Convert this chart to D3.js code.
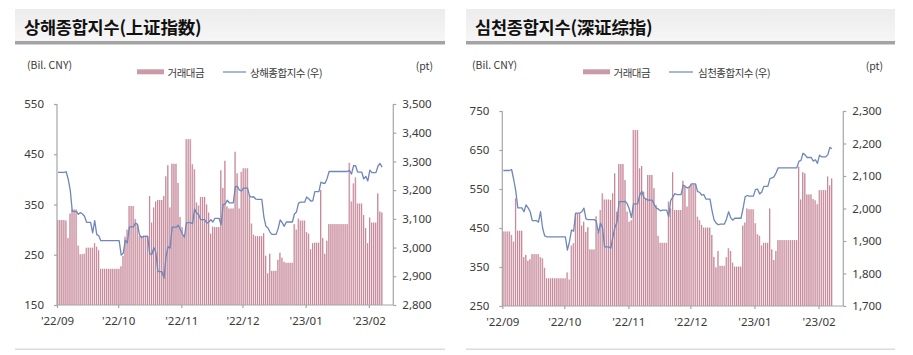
<!DOCTYPE html>
<html><head><meta charset="utf-8">
<script src="https://cdn.jsdelivr.net/npm/d3@7"></script>
<style>
body{margin:0;background:#fff;}
svg{display:block;font-family:"Noto Sans CJK KR","Noto Sans",sans-serif;}
</style>
</head><body>
<svg id="c" width="913" height="355"></svg>
<script>
// ---------- DATA (one value per calendar day, 2022-09-09 .. 2023-02-15) ----------
const startDate = "2022-09-09";
const axisEndDate = "2023-02-21";
const monthTicks = ["2022-09-09","2022-10-09","2022-11-09","2022-12-09","2023-01-09","2023-02-09"];

// Shanghai turnover (Bil. CNY)
const shVolume = [
  // Sep 9-30
  319,319,319,319,318,283,332,340,340,340,268,251,251,252,264,264,264,264,273,266,259,222,
  // Oct
  222,222,222,222,222,222,222,222,222,227,248,286,300,347,347,347,321,310,287,287,288,288,288,367,314,344,356,359,359,359,367,
  // Nov
  406,428,344,431,431,431,393,325,305,290,480,480,480,430,420,354,348,365,365,365,350,334,292,306,305,305,305,418,383,437,
  // Dec
  346,342,342,342,455,412,342,415,422,422,422,369,312,290,287,287,287,287,293,248,213,252,218,218,218,240,254,244,236,234,234,
  // Jan
  234,234,311,300,322,318,318,318,295,292,261,273,274,274,274,379,283,252,278,311,311,311,311,311,311,311,311,311,311,433,356,
  // Feb 1-15
  392,404,352,352,352,329,303,273,324,314,314,314,372,336,334
];
// Shanghai Composite (pt)
const shIndex = [
  3262,3262,3262,3262,3264,3238,3200,3126,3126,3126,3116,3122,3117,3109,3088,3088,3088,3051,3094,3045,3041,3024,
  3024,3024,3024,3024,3024,3024,3024,3024,3024,2974,2980,3026,3016,3072,3072,3072,3085,3081,3044,3035,3039,3039,3039,2978,2976,3000,2983,2916,2916,2916,2893,
  2969,3003,2998,3071,3071,3071,3078,3064,3048,3036,3087,3087,3087,3083,3134,3120,3115,3097,3097,3097,3085,3089,3097,3089,3102,3102,3102,3079,3150,3151,
  3165,3156,3156,3156,3212,3213,3200,3197,3207,3207,3207,3179,3176,3177,3169,3168,3168,3168,3107,3074,3068,3054,3046,3046,3046,3066,3096,3087,3074,3089,3089,
  3089,3089,3117,3124,3155,3158,3158,3158,3176,3170,3162,3163,3195,3195,3195,3228,3224,3224,3240,3265,3265,3265,3265,3265,3265,3265,3265,3265,3265,3269,3256,
  3285,3285,3263,3263,3263,3239,3248,3232,3270,3261,3261,3261,3284,3293,3280
];
// Shenzhen turnover (Bil. CNY)
const szVolume = [
  441,441,441,441,432,415,526,443,443,443,375,381,366,370,383,383,383,383,375,372,348,321,
  321,321,321,321,321,321,321,321,321,336,318,405,411,487,487,487,456,466,440,452,395,395,395,480,440,496,539,523,523,523,522,
  539,590,492,614,614,614,573,492,466,470,701,701,701,603,609,543,526,586,586,586,552,509,430,412,412,412,412,518,500,593,
  496,496,496,496,571,556,505,556,562,562,562,479,470,458,451,451,451,451,432,376,349,391,353,353,353,375,398,391,361,351,351,
  351,351,456,464,500,498,498,498,462,434,430,405,412,412,412,500,395,368,391,419,419,419,419,419,419,419,419,419,419,607,523,
  593,590,536,536,536,524,521,511,547,547,547,547,582,559,577
];
// Shenzhen Composite (pt)
const szIndex = [
  2117,2117,2117,2117,2120,2090,2055,2002,2002,2002,1990,2011,2002,1990,1963,1963,1963,1958,1990,1940,1916,1913,
  1913,1913,1913,1913,1913,1913,1913,1913,1913,1872,1898,1934,1930,1986,1986,1986,1990,2001,1968,1966,1966,1966,1966,1960,1925,1955,1940,1882,1882,1882,1878,
  1912,1942,1958,2021,2021,2021,2022,2014,1997,1972,2014,2014,2014,2041,2053,2034,2029,2026,2026,2026,2012,2002,1998,1993,1995,1995,1995,1975,2025,2035,
  2046,2043,2043,2043,2072,2068,2063,2066,2076,2076,2076,2052,2050,2041,2043,2029,2029,2029,1993,1964,1955,1950,1952,1952,1952,1968,1990,1972,1964,1970,1970,
  1970,1970,2000,2036,2040,2038,2038,2038,2058,2060,2045,2050,2068,2068,2068,2092,2094,2098,2110,2125,2125,2125,2125,2125,2125,2125,2125,2125,2125,2145,2148,
  2170,2165,2157,2157,2157,2146,2150,2139,2164,2159,2159,2159,2165,2188,2184
];

const shVolTicks = [150,250,350,450,550];
const shIdxTicks = [2800,2900,3000,3100,3200,3300,3400,3500];
const szVolTicks = [250,350,450,550,650,750];
const szIdxTicks = [1700,1800,1900,2000,2100,2200,2300];

const titles = ["상해종합지수(上证指数)","심천종합지수(深证综指)"];
const barLegend = "거래대금";
const lineLegends = ["상해종합지수 (우)","심천종합지수 (우)"];
const leftUnit = "(Bil. CNY)";
const rightUnit = "(pt)";

// ---------- DRAWING ----------
const parse = d3.timeParse("%Y-%m-%d");
const fmtTick = d3.timeFormat("'%y/%m");
const t0 = parse(startDate), t1 = parse(axisEndDate);
const nDays = d3.timeDay.count(t0, t1);
const svg = d3.select("#c");

const defs = svg.append("defs");
const g = defs.append("linearGradient").attr("id","tg").attr("x1",0).attr("x2",0).attr("y1",0).attr("y2",1);
g.append("stop").attr("offset","0%").attr("stop-color","#ececec");
g.append("stop").attr("offset","100%").attr("stop-color","#f6f6f6");

const panels = [
  {title:titles[0], lineName:lineLegends[0], vol:shVolume, idx:shIndex, vT:shVolTicks, iT:shIdxTicks,
   band:[15,445], px:[57,393.3], py:[305,104],
   unitL:27, unitR:433, sw:[137,164], lineL:[223,246], lt:250},
  {title:titles[1], lineName:lineLegends[1], vol:szVolume, idx:szIndex, vT:szVolTicks, iT:szIdxTicks,
   band:[466,895], px:[502.3,843.3], py:[306,111],
   unitL:472, unitR:883, sw:[583,610], lineL:[669,693], lt:698}
];

const AX = "#a6a6a6", TXT = "#3a3a3a";

panels.forEach(p => {
  const G = svg.append("g");
  // title band
  G.append("rect").attr("x",p.band[0]).attr("y",9).attr("width",p.band[1]-p.band[0]).attr("height",32).attr("fill","url(#tg)");
  G.append("rect").attr("x",p.band[0]).attr("y",41).attr("width",p.band[1]-p.band[0]).attr("height",3.5).attr("fill","#a3a3a3");
  G.append("text").attr("x",p.band[0]+9).attr("y",33.5).attr("font-size",17.5).attr("font-weight","bold")
    .attr("fill","#111").attr("letter-spacing","-0.2").text(p.title);
  // bottom separator
  G.append("rect").attr("x",p.band[0]).attr("y",348.5).attr("width",p.band[1]-p.band[0]).attr("height",1.5).attr("fill","#dcdcdc");

  // units & legend
  G.append("text").attr("x",p.unitL).attr("y",69).attr("font-size",10.5).attr("fill",TXT).text(leftUnit);
  G.append("text").attr("x",p.unitR).attr("y",70).attr("text-anchor","end").attr("font-size",10.5).attr("fill",TXT).text(rightUnit);
  G.append("rect").attr("x",p.sw[0]).attr("y",69.3).attr("width",p.sw[1]-p.sw[0]).attr("height",5).attr("fill","#c99aa7");
  G.append("text").attr("x",p.sw[1]+3.5).attr("y",76.5).attr("font-size",10.5).attr("letter-spacing","-0.5").attr("fill",TXT).text(barLegend);
  G.append("line").attr("x1",p.lineL[0]).attr("x2",p.lineL[1]).attr("y1",72).attr("y2",72).attr("stroke","#6f86b8").attr("stroke-width",1.2);
  G.append("text").attr("x",p.lt).attr("y",76.5).attr("font-size",10.5).attr("letter-spacing","-0.5").attr("fill",TXT).text(p.lineName);

  const x = d3.scaleTime().domain([t0,t1]).range(p.px);
  const step = (p.px[1]-p.px[0]) / nDays;
  const yL = d3.scaleLinear().domain(d3.extent(p.vT)).range(p.py);
  const yR = d3.scaleLinear().domain(d3.extent(p.iT)).range(p.py);
  const dates = p.vol.map((_, i) => d3.timeDay.offset(t0, i));

  // bars
  const bars = G.append("g");
  bars.selectAll("rect.b").data(p.vol).join("rect").attr("class","b")
    .attr("x",(d,i)=>x(dates[i]) + step*0.12)
    .attr("width", step*0.74)
    .attr("y", d=>yL(d)).attr("height", d=>yL.range()[0]-yL(d))
    .attr("fill","#e6c6cf");
  bars.selectAll("rect.e").data(p.vol).join("rect").attr("class","e")
    .attr("x",(d,i)=>x(dates[i]) + step*0.12)
    .attr("width", 0.85)
    .attr("y", d=>yL(d)).attr("height", d=>yL.range()[0]-yL(d))
    .attr("fill","#bf7f91");

  // line
  const line = d3.line().x((d,i)=>x(dates[i]) + step*0.5).y(d=>yR(d));
  G.append("path").datum(p.idx).attr("d",line).attr("fill","none").attr("stroke","#6f86b8").attr("stroke-width",1.3).attr("stroke-linejoin","round");

  // left axis
  const aL = G.append("g").attr("transform",`translate(${p.px[0]},0)`)
    .call(d3.axisLeft(yL).tickValues(p.vT).tickSize(3).tickPadding(10).tickFormat(d3.format("d")));
  // right axis
  const aR = G.append("g").attr("transform",`translate(${p.px[1]},0)`)
    .call(d3.axisRight(yR).tickValues(p.iT).tickSize(3).tickPadding(6).tickFormat(d3.format(",")));
  // bottom axis
  const aB = G.append("g").attr("transform",`translate(0,${p.py[0]})`)
    .call(d3.axisBottom(x).tickValues(monthTicks.map(parse)).tickSize(3).tickPadding(9).tickFormat(fmtTick));
  [aL,aR,aB].forEach(a=>{
    a.select(".domain").attr("stroke",AX).attr("stroke-width",1.2);
    a.selectAll(".tick line").attr("stroke",AX).attr("stroke-width",1.2);
    a.selectAll(".tick text").attr("fill",TXT).attr("font-size",11.5).attr("font-family","'Noto Sans',sans-serif");
  });
  aL.select(".domain").attr("d",`M0,${p.py[0]}V${p.py[1]}`);
  aR.select(".domain").attr("d",`M0,${p.py[0]}V${p.py[1]}`);
  aB.select(".domain").attr("d",`M${p.px[0]},0H${p.px[1]}`);
});
</script>
</body></html>
